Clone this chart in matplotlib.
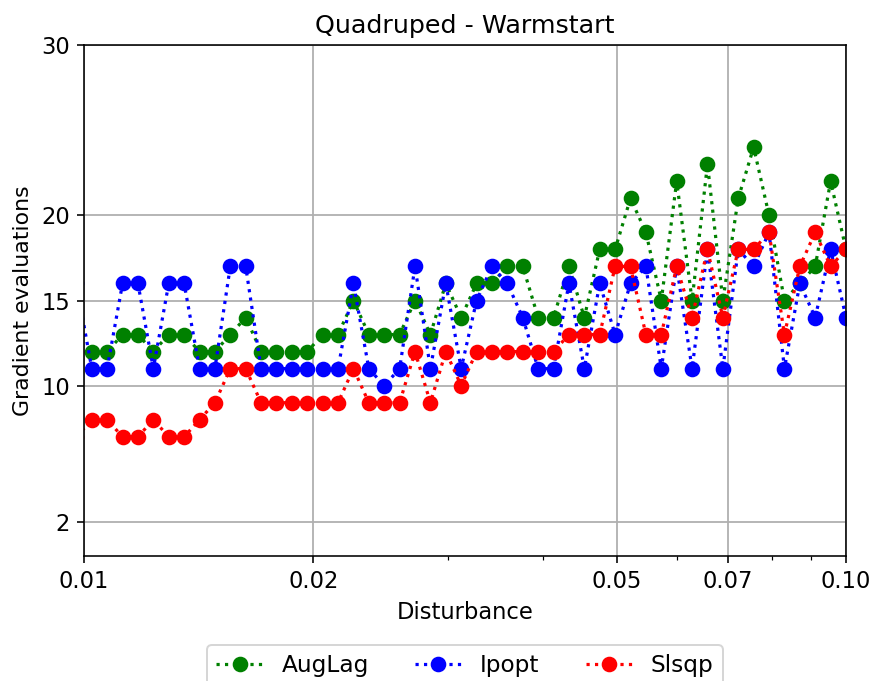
import numpy as np
import matplotlib
matplotlib.use("Agg")
import matplotlib.pyplot as plt
from matplotlib.ticker import FixedLocator, NullFormatter

# Data
disturbance = np.logspace(-2.01, -1, 51)
auglag = [12, 12, 12, 13, 13, 12, 13, 13, 12, 12, 13,
          14, 12, 12, 12, 12, 13, 13, 15, 13, 13,
          13, 15, 13, 16, 14, 16, 16, 17, 17, 14,
          14, 17, 14, 18, 18, 21, 19, 15, 22, 15,
          23, 15, 21, 24, 20, 15, 16, 17, 22, 18]
ipopt = [16, 11, 11, 16, 16, 11, 16, 16, 11, 11, 17,
         17, 11, 11, 11, 11, 11, 11, 16, 11, 10,
         11, 17, 11, 16, 11, 15, 17, 16, 14, 11,
         11, 16, 11, 16, 13, 16, 17, 11, 17, 11,
         18, 11, 18, 17, 19, 11, 16, 14, 18, 14]
slsqp = [7, 8, 8, 7, 7, 8, 7, 7, 8, 9, 11,
         11, 9, 9, 9, 9, 9, 9, 11, 9, 9,
         9, 12, 9, 12, 10, 12, 12, 12, 12, 12,
         12, 13, 13, 13, 17, 17, 13, 13, 17, 14,
         18, 14, 18, 18, 19, 13, 17, 19, 17, 18]
series = [("AugLag", auglag, "green"), ("Ipopt", ipopt, "blue"), ("Slsqp", slsqp, "red")]
xticks = [0.01, 0.02, 0.05, 0.07, 0.1]
xtick_labels = ["0.01", "0.02", "0.05", "0.07", "0.10"]
xminor = [0.03, 0.04, 0.06, 0.08, 0.09]
yticks = [2, 10, 15, 20, 30]

fig = plt.figure(figsize=(873 / 144, 681 / 144), dpi=144)
ax = fig.add_axes([84 / 873, 1 - 556 / 681, 762 / 873, 511 / 681])

for name, vals, col in series:
    ax.plot(disturbance, vals, linestyle=":", marker="o", color=col, label=name,
            linewidth=1.6, markersize=6.8)

ax.set_xscale("log")
ax.set_xlim(0.01, 0.1)
ax.set_ylim(0, 30)
ax.xaxis.set_major_locator(FixedLocator(xticks))
ax.set_xticklabels(xtick_labels)
ax.xaxis.set_minor_locator(FixedLocator(xminor))
ax.xaxis.set_minor_formatter(NullFormatter())
ax.set_yticks(yticks)
ax.tick_params(labelsize=11.3)
ax.grid(True, which="major", color="#b0b0b0", linewidth=0.9)
ax.set_axisbelow(True)

ax.set_xlabel("Disturbance", fontsize=11.3)
ax.set_ylabel("Gradient evaluations", fontsize=11)
ax.set_title("Quadruped - Warmstart", fontsize=12.7)
ax.legend(loc="upper center", bbox_to_anchor=(0.5, -0.174), ncol=3, borderaxespad=0, fontsize=11.6)

fig.savefig("out.png", dpi=144)
